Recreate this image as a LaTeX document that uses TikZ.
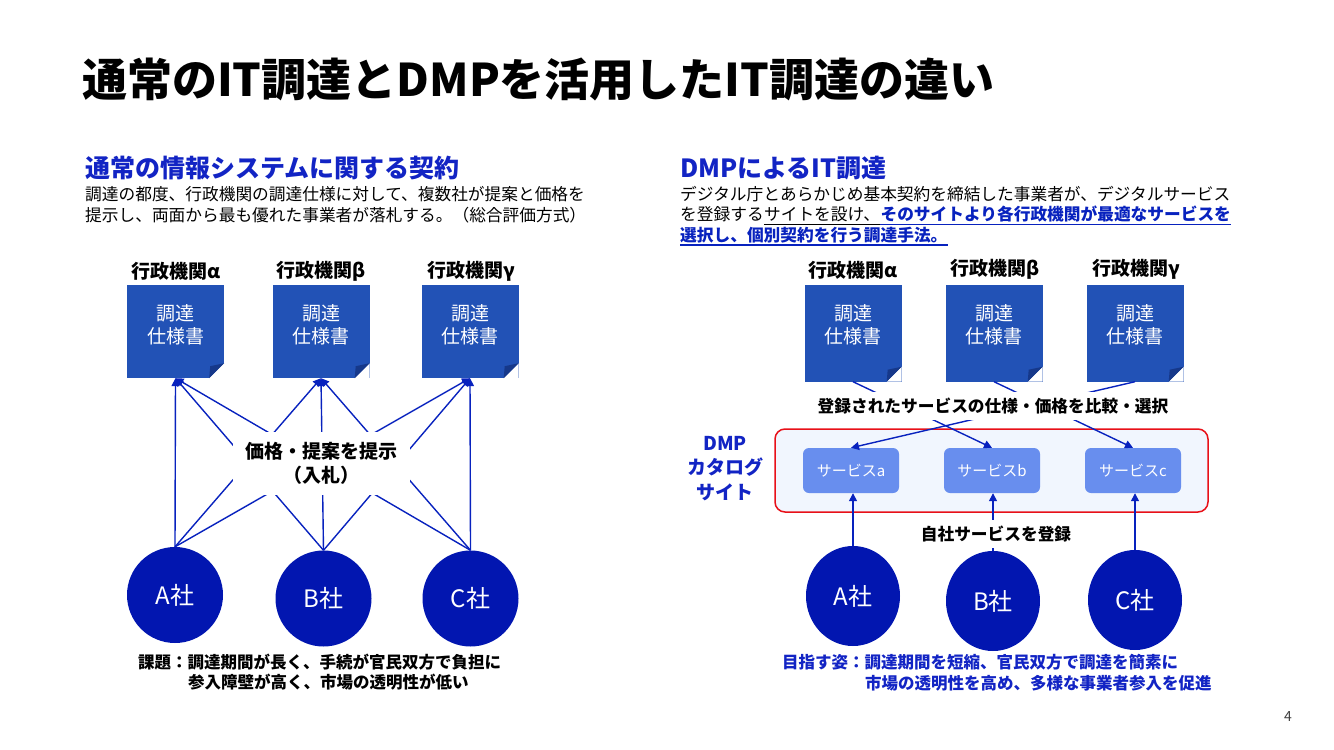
\documentclass[tikz,border=0pt]{standalone}
\usepackage{fontspec}
\setmainfont{Noto Sans CJK JP}
\usetikzlibrary{arrows.meta,positioning,shapes.geometric}

\definecolor{headblue}{RGB}{18,36,196}
\definecolor{docblue}{RGB}{34,82,182}
\definecolor{folddark}{RGB}{22,56,138}
\definecolor{coblue}{RGB}{2,22,176}
\definecolor{linkblue}{RGB}{8,34,190}
\definecolor{svblue}{RGB}{104,142,238}
\definecolor{sitefill}{RGB}{241,246,254}
\definecolor{sitered}{RGB}{232,16,24}

\tikzset{
  headline/.style={anchor=base west, inner sep=0pt, text=headblue, font=\fontsize{25}{30}\selectfont\bfseries},
  bodyline/.style={anchor=base west, inner sep=0pt, font=\fontsize{16.7}{20}\selectfont},
  linkline/.style={bodyline, text=linkblue, font=\fontsize{16.7}{20}\selectfont\bfseries},
  ulinestyle/.style={line width=1.1},
  note/.style={anchor=base west, inner sep=0pt, font=\fontsize{16.5}{20}\selectfont\bfseries},
  orgname/.style={inner sep=0pt, font=\fontsize{19}{23}\selectfont\bfseries},
  specdoc/.style={fill=docblue, minimum width=97, minimum height=93, inner sep=0pt},
  doctext/.style={inner sep=0pt, text=white, align=center, font=\fontsize{19}{23}\selectfont},
  company/.style={circle, fill=coblue, minimum size=96, inner sep=0pt, text=white, font=\fontsize{24}{28}\selectfont},
  rcompany/.style={company, ellipse, minimum width=94, minimum height=100},
  service/.style={fill=svblue, rounded corners=6, minimum width=96, minimum height=45, inner sep=0pt, text=white, font=\fontsize{15}{18}\selectfont},
  arr/.style={draw=linkblue, line width=1.4, -{Triangle[length=8pt,width=8pt]}},
  mask/.style={fill=white, inner xsep=4pt, inner ysep=6pt, font=\fontsize{16.7}{20}\selectfont\bfseries},
}

% folded corner of a spec sheet
\newcommand\foldcorner[1]{%
  \fill[white] (#1.south east) -- ++(-15,0) -- ++(15,-15) -- cycle;
  \fill[folddark] ([xshift=-15pt]#1.south east) -- ([yshift=15pt]#1.south east) -- ([xshift=-14pt,yshift=12pt]#1.south east) -- cycle;}

\begin{document}
\begin{tikzpicture}[x=1pt,y=-1pt]
\useasboundingbox (0,0) rectangle (1334,750);

\node[anchor=base west, inner sep=0pt, font=\fontsize{45}{50}\selectfont\bfseries] (title) at (82,96) {通常のIT調達とDMPを活用したIT調達の違い};

% left: usual contract
\node[headline] (lhead) at (85,177) {通常の情報システムに関する契約};
\node[bodyline] (lpar1) at (85,200) {調達の都度、行政機関の調達仕様に対して、複数社が提案と価格を};
\node[bodyline] (lpar2) at (85,221) {提示し、両面から最も優れた事業者が落札する。（総合評価方式）};

\node[specdoc] (la) at (175.5,331.5) {};
\node[specdoc] (lb) at (321,331.5) {};
\node[specdoc] (lc) at (470,331.5) {};
\foldcorner{la} \foldcorner{lb} \foldcorner{lc}
\node[doctext] (lat) at (175.5,324.5) {調達\\仕様書};
\node[doctext] (lbt) at (321,324.5) {調達\\仕様書};
\node[doctext] (lct) at (470,324.5) {調達\\仕様書};
\node[orgname] (lan) at (176,271) {行政機関α};
\node[orgname] (lbn) at (321,271) {行政機関β};
\node[orgname] (lcn) at (471,271) {行政機関γ};

\node[company] (lA) at (175,595) {A社};
\node[company] (lB) at (323.5,598.5) {B社};
\node[company] (lC) at (470.5,598.5) {C社};

\foreach \co in {lA,lB,lC}
  \foreach \dc in {la,lb,lc}
    \draw[arr] (\co.north) -- (\dc.south);

\node[fill=white, minimum width=177, minimum height=63, align=center, font=\fontsize{19}{24}\selectfont\bfseries] (bid) at (321.5,463.5) {価格・提案を提示\\（入札）};

\node[note] (issue1) at (138,668) {課題：調達期間が長く、手続が官民双方で負担に};
\node[note] (issue2) at (188,688) {参入障壁が高く、市場の透明性が低い};

% right: procurement via DMP
\node[headline] (rhead) at (680,177) {DMPによるIT調達};
\node[bodyline] (rpar1) at (680,200) {デジタル庁とあらかじめ基本契約を締結した事業者が、デジタルサービス};
\node[bodyline] (rpar2) at (680,220.5) {を登録する};
\node[bodyline] (site1) at (rpar2.base east) {サイトを設け、};
\node[linkline] (site2) at (site1.base east) {そのサイトより各行政機関が最適なサービスを};
\node[linkline] (rpar3) at (680,241) {選択し、個別契約を行う調達手法。};
\draw[ulinestyle, black] ([yshift=-4pt]rpar2.base east) -- ([yshift=-4pt]site2.base west);
\draw[ulinestyle, linkblue] ([yshift=-4pt]site2.base west) -- ([yshift=-4pt]site2.base east);
\draw[ulinestyle, linkblue] ([yshift=-4pt]rpar3.base west) -- ([yshift=-4pt]rpar3.base east);

\node[specdoc, minimum height=97] (ra) at (853,333) {};
\node[specdoc, minimum height=97] (rb) at (994,333) {};
\node[specdoc, minimum height=97] (rc) at (1135,333) {};
\foldcorner{ra} \foldcorner{rb} \foldcorner{rc}
\node[doctext] (rat) at (853,325) {調達\\仕様書};
\node[doctext] (rbt) at (994,325) {調達\\仕様書};
\node[doctext] (rct) at (1135,325) {調達\\仕様書};
\node[orgname] (ran) at (853,270) {行政機関α};
\node[orgname] (rbn) at (995,269) {行政機関β};
\node[orgname] (rcn) at (1136,269) {行政機関γ};

\node[draw=sitered, fill=sitefill, line width=1.5, rounded corners=10, minimum width=433, minimum height=83] (site) at (991.5,470.5) {};
\node[service] (sa) at (851,470.5) {サービスa};
\node[service] (sb) at (992,470.5) {サービスb};
\node[service] (sc) at (1133,470.5) {サービスc};
\node[align=center, inner sep=0pt, text=headblue, font=\fontsize{19}{24.5}\selectfont\bfseries] (dmp) at (725,468.5) {DMP\\カタログ\\サイト};

\draw[arr] (ra.south) -- (sb.north);
\draw[arr] (rb.south) -- (sc.north);
\draw[arr] (rc.south) -- (sa.north);
\node[mask] (cmp) at (993,406) {登録されたサービスの仕様・価格を比較・選択};

\node[rcompany] (rA) at (853,596) {A社};
\node[rcompany] (rB) at (993,601) {B社};
\node[rcompany] (rC) at (1135,600) {C社};
\draw[arr] (rA.north) -- (rA.north |- sa.south);
\draw[arr] (rB.north) -- (rB.north |- sb.south);
\draw[arr] (rC.north) -- (rC.north |- sc.south);
\node[mask] (reg) at (996,534) {自社サービスを登録};

\node[note, text=headblue] (goal1) at (782,668) {目指す姿：調達期間を短縮、官民双方で調達を簡素に};
\node[note, text=headblue] (goal2) at (865,689) {市場の透明性を高め、多様な事業者参入を促進};

\node[font=\fontsize{14}{16}\selectfont, text=black!75] (pgno) at (1288,716) {4};
\end{tikzpicture}
\end{document}
